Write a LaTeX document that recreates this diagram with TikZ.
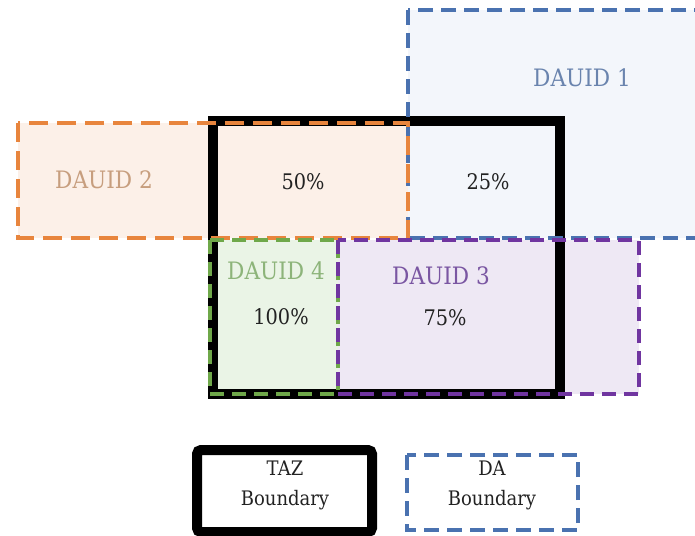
\documentclass[tikz,border=0pt]{standalone}
\usepackage{fontspec}
\setmainfont[FakeStretch=0.9]{DejaVu Serif}
\definecolor{dablue}{HTML}{4A72B0}
\definecolor{daorange}{HTML}{E8853D}
\definecolor{dagreen}{HTML}{6FA84A}
\definecolor{dapurple}{HTML}{7035A0}
\definecolor{fillblue}{HTML}{F3F6FB}
\definecolor{fillorange}{HTML}{FCF0E8}
\definecolor{fillgreen}{HTML}{EAF4E6}
\definecolor{fillpurple}{HTML}{EEE8F4}
\definecolor{txtblue}{HTML}{6A84AE}
\definecolor{txtorange}{HTML}{C79E7E}
\definecolor{txtgreen}{HTML}{8DB47A}
\definecolor{txtpurple}{HTML}{7A56A2}
\definecolor{txtdark}{HTML}{222222}
\tikzset{
  daline/.style={line width=4pt, dash pattern=on 15pt off 8pt},
  tazline/.style={line width=10pt, black},
  dalabel/.style={font=\fontsize{24}{28}\selectfont, inner sep=0pt},
  pct/.style={font=\fontsize{21.5}{26}\selectfont, text=txtdark, inner sep=0pt},
  legtext/.style={font=\fontsize{20}{30}\selectfont, align=center, text=txtdark, inner sep=0pt}
}
\begin{document}
\begin{tikzpicture}[x=1pt,y=-1pt]
\useasboundingbox (0,0) rectangle (695,535);
\begin{scope}
\clip (0,0) rectangle (695,535);
% area fills
\fill[fillblue] (408,10) rectangle (710,238);
\fill[fillorange] (18,123) rectangle (408,238);
\fill[fillgreen] (210,240) rectangle (338,394);
\fill[fillpurple] (338,240) rectangle (639,394);
% TAZ boundary
\draw[tazline] (213,121) rectangle (560,394);
% DA boundaries
\draw[daline, dablue] (408,10) rectangle (710,238);
\draw[daline, daorange, dash pattern=on 19pt off 9pt] (18,123) rectangle (408,238);
\draw[daline, dagreen, dash pattern=on 14pt off 8pt] (210,240) rectangle (338,394);
\draw[daline, dapurple, dash pattern=on 14pt off 8pt] (338,240) rectangle (639,394);
\end{scope}
% labels
\node[dalabel, text=txtblue] (d1) at (582,78) {DAUID 1};
\node[dalabel, text=txtorange] (d2) at (104,180) {DAUID 2};
\node[dalabel, text=txtgreen] (d4) at (276,271) {DAUID 4};
\node[dalabel, text=txtpurple] (d3) at (441,276) {DAUID 3};
\node[pct] (p50) at (303,182) {50\%};
\node[pct] (p25) at (488,182) {25\%};
\node[pct] (p100) at (281,317) {100\%};
\node[pct] (p75) at (445,318) {75\%};
% legend
\draw[tazline, rounded corners=4pt] (197,450) rectangle (372,532);
\draw[daline, dablue, fill=white] (407,455) rectangle (578,530);
\node[legtext] (ltaz) at (285,485) {TAZ\\Boundary};
\node[legtext] (lda) at (492,485) {DA\\Boundary};
\end{tikzpicture}
\end{document}
